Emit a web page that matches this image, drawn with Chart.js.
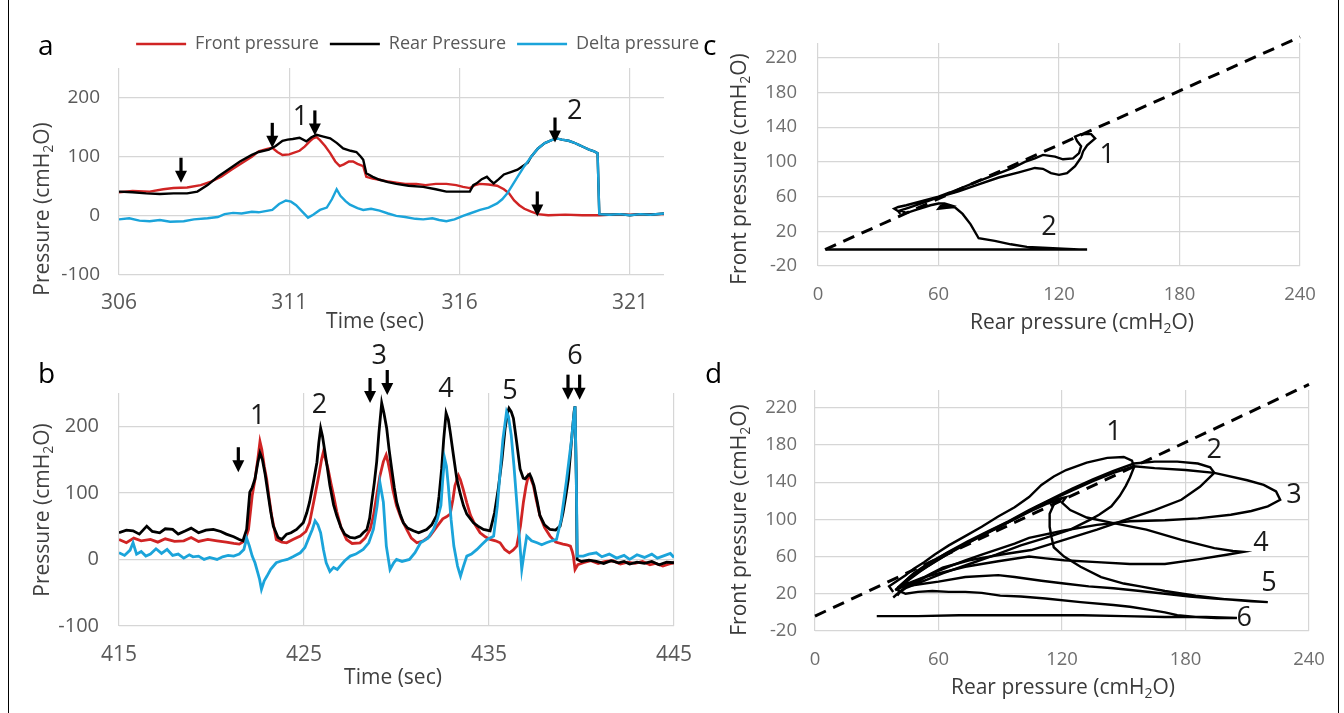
<!DOCTYPE html>
<html>
<head>
<meta charset="utf-8">
<script src="https://cdn.jsdelivr.net/npm/chart.js@4.4.0/dist/chart.umd.min.js"></script>
<style>
  html, body { margin: 0; padding: 0; background: #fff; }
  body { width: 1344px; height: 713px; position: relative; overflow: hidden; font-family: 'Open Sans', 'Noto Sans', sans-serif; }
  canvas { position: absolute; }
  .tag { position: absolute; font-size: 28px; line-height: 1; color: #000; }
  .frame { position: absolute; top: 0; bottom: 0; width: 0; border-left: 1.5px solid #000; }
</style>
</head>
<body>
<div class="frame" style="left:8px"></div>
<div class="frame" style="left:1338px"></div>

<canvas id="pa" width="700" height="311" style="left:0;top:24px"></canvas>
<canvas id="pb" width="700" height="360" style="left:0;top:340px"></canvas>
<canvas id="pc" width="644" height="320" style="left:700px;top:20px"></canvas>
<canvas id="pd" width="644" height="360" style="left:700px;top:340px"></canvas>

<div class="tag" style="left:38px;top:30px">a</div>
<div class="tag" style="left:38px;top:358px">b</div>
<div class="tag" style="left:703px;top:30px">c</div>
<div class="tag" style="left:705px;top:358px">d</div>

<script>
// ---- panel a: pressure vs time, 306-322 s ----
const aTicksX = [306, 311, 316, 321];
const aTicksY = [-100, 0, 100, 200];
const aFrontT = [306, 306.4, 306.9, 307.3, 307.6, 308, 308.4, 308.7, 309, 309.3, 309.6, 309.9, 310.1, 310.35, 310.5, 310.65, 310.8, 311, 311.1, 311.3, 311.45, 311.6, 311.7, 311.8, 311.9, 312.05, 312.2, 312.35, 312.48, 312.6, 312.75, 312.87, 313, 313.17, 313.26, 313.45, 313.65, 313.9, 314.14, 314.4, 314.73, 315, 315.3, 315.61, 315.9, 316.1, 316.3, 316.45, 316.6, 316.85, 317.1, 317.3, 317.45, 317.6, 317.75, 317.9, 318.1, 318.3, 318.6, 319.1, 319.6, 320.1, 320.5, 321, 321.5, 322];
const aFrontP = [40, 42, 41, 45, 47, 48, 52, 58, 66, 78, 89, 100, 109, 113, 115, 108, 103, 104, 106, 110, 117, 126, 131, 133, 128, 118, 106, 92, 84, 87, 92, 92, 88, 84, 66, 63, 61, 58, 56, 54, 54, 52, 54, 54, 52, 49, 47, 52, 54, 53, 51, 45, 38, 26, 18, 12, 7, 3, 1, 2, 1, 1, 2, 2, 3, 3];
const aRearT = [306, 306.4, 306.8, 307.2, 307.6, 308, 308.3, 308.6, 308.9, 309.2, 309.55, 309.9, 310.1, 310.4, 310.6, 310.8, 310.95, 311.1, 311.3, 311.5, 311.65, 311.8, 312, 312.2, 312.4, 312.58, 312.8, 312.97, 313.1, 313.17, 313.26, 313.45, 313.65, 313.9, 314.14, 314.5, 314.93, 315.3, 315.61, 316, 316.3, 316.4, 316.5, 316.65, 316.8, 316.9, 317, 317.15, 317.3, 317.5, 317.7, 317.85, 318, 318.1, 318.3, 318.5, 318.7, 318.85, 319, 319.2, 319.35, 319.5, 319.65, 319.8, 319.95, 320.05, 320.1, 320.4, 320.7, 321, 321.3, 321.6, 322];
const aRearP = [41, 40, 38, 37, 38, 38, 41, 52, 66, 78, 92, 103, 108, 112, 118, 127, 129, 130, 132, 126, 133, 137, 134, 131, 123, 114, 110, 108, 100, 95, 72, 66, 61, 57, 54, 51, 49, 45, 41, 41, 41, 52, 55, 62, 66, 60, 55, 62, 70, 74, 78, 84, 90, 100, 114, 123, 128, 131, 129, 127, 124, 120, 116, 112, 109, 106, 3, 2, 3, 1, 3, 2, 4];
const aDeltaT = [306, 306.3, 306.6, 306.9, 307.2, 307.5, 307.9, 308.2, 308.6, 308.9, 309.1, 309.35, 309.6, 309.9, 310.1, 310.3, 310.5, 310.7, 310.9, 311.05, 311.2, 311.4, 311.55, 311.7, 311.9, 312.1, 312.25, 312.39, 312.5, 312.65, 312.78, 313, 313.17, 313.4, 313.65, 313.9, 314.14, 314.4, 314.7, 314.93, 315.2, 315.4, 315.61, 315.85, 316.1, 316.3, 316.6, 316.85, 317.1, 317.25, 317.4, 317.55, 317.7, 317.9, 318.1, 318.3, 318.5, 318.7, 318.85, 319, 319.2, 319.35, 319.5, 319.65, 319.8, 319.95, 320.05, 320.1, 320.4, 320.7, 321, 321.3, 321.6, 322];
const aDeltaP = [-6, -4, -8, -9, -7, -10, -9, -6, -4, -2, 3, 5, 4, 7, 6, 8, 10, 20, 26, 24, 18, 6, -3, 2, 10, 14, 28, 45, 34, 25, 19, 13, 10, 12, 9, 4, 0, -2, -5, -6, -4, -7, -9, -6, 0, 4, 10, 14, 21, 28, 38, 52, 66, 84, 100, 114, 123, 128, 131, 129, 127, 124, 120, 116, 112, 109, 106, 3, 2, 3, 1, 3, 2, 4];
const aArrows = [[307.82, 56], [310.5, 115], [311.75, 136], [318.8, 124], [318.28, -1]];
const aMarks = [[311.33, 166, '1'], [319.38, 177, '2']];

// ---- panel b: pressure vs time, 415-445 s ----
const bTicksX = [415, 425, 435, 445];
const bTicksY = [-100, 0, 100, 200];
const bRearT = [415, 415.4, 415.76, 416.1, 416.5, 416.8, 417.2, 417.5, 417.9, 418.2, 418.6, 418.9, 419.3, 419.7, 420.1, 420.5, 420.8, 421.2, 421.5, 421.7, 421.9, 422.07, 422.2, 422.35, 422.5, 422.62, 422.75, 422.9, 423.07, 423.2, 423.34, 423.6, 423.8, 424.06, 424.3, 424.6, 424.96, 425.15, 425.3, 425.5, 425.7, 425.8, 425.9, 426, 426.1, 426.25, 426.4, 426.6, 426.77, 427, 427.2, 427.49, 427.75, 428.03, 428.2, 428.4, 428.55, 428.66, 428.8, 428.93, 429.05, 429.2, 429.32, 429.47, 429.6, 429.74, 429.88, 430.01, 430.2, 430.37, 430.6, 430.91, 431.2, 431.63, 431.9, 432.17, 432.3, 432.44, 432.55, 432.68, 432.8, 432.9, 433.1, 433.26, 433.45, 433.62, 433.8, 434.16, 434.4, 434.7, 435.06, 435.3, 435.5, 435.7, 435.87, 436, 436.08, 436.2, 436.32, 436.5, 436.68, 436.85, 436.95, 437.1, 437.2, 437.3, 437.43, 437.6, 437.75, 438, 438.3, 438.6, 438.84, 439, 439.15, 439.29, 439.45, 439.6, 439.65, 439.72, 439.76, 440, 440.4, 440.8, 441.2, 441.6, 442, 442.3, 442.6, 443, 443.4, 443.8, 444.2, 444.6, 445];
const bRearP = [40, 44, 43, 38, 50, 42, 40, 46, 45, 38, 43, 47, 40, 44, 45, 42, 38, 34, 30, 28, 45, 101, 108, 121, 145, 160, 150, 128, 96, 72, 50, 33, 30, 38, 40, 45, 55, 70, 86, 115, 146, 175, 197, 185, 167, 140, 111, 82, 66, 48, 38, 33, 32, 35, 40, 45, 62, 86, 115, 147, 190, 235, 220, 197, 165, 136, 108, 86, 68, 55, 47, 43, 40, 45, 52, 66, 95, 136, 180, 220, 210, 192, 152, 121, 98, 81, 68, 55, 50, 45, 43, 70, 106, 150, 197, 220, 227, 222, 212, 175, 136, 122, 121, 126, 128, 122, 111, 88, 66, 52, 45, 44, 50, 70, 95, 121, 175, 222, 230, 120, 0, -3, -1, -3, -6, -2, -5, -3, -7, -4, -6, -3, -8, -4, -5];
const bFrontT = [415, 415.4, 415.8, 416.2, 416.7, 417.1, 417.5, 418, 418.5, 418.9, 419.3, 419.8, 420.3, 420.8, 421.2, 421.5, 421.8, 422, 422.2, 422.35, 422.5, 422.62, 422.72, 422.85, 422.98, 423.1, 423.25, 423.4, 423.5, 423.8, 424.06, 424.4, 424.8, 425.1, 425.3, 425.55, 425.8, 425.95, 426.05, 426.15, 426.3, 426.45, 426.6, 426.77, 427, 427.3, 427.6, 428.03, 428.3, 428.57, 428.75, 428.93, 429.1, 429.29, 429.44, 429.55, 429.65, 429.8, 430, 430.25, 430.55, 430.8, 431.1, 431.45, 431.8, 432.2, 432.5, 432.7, 432.9, 433.05, 433.16, 433.35, 433.45, 433.6, 433.8, 434, 434.25, 434.52, 434.8, 435.06, 435.35, 435.6, 435.85, 436.1, 436.3, 436.5, 436.7, 436.86, 437, 437.13, 437.25, 437.4, 437.55, 437.75, 438, 438.3, 438.6, 439, 439.2, 439.4, 439.5, 439.56, 439.65, 439.8, 440.1, 440.5, 440.9, 441.3, 441.7, 442.1, 442.5, 442.9, 443.3, 443.7, 444, 444.4, 444.7, 445];
const bFrontP = [30, 25, 32, 28, 30, 26, 31, 27, 28, 33, 27, 30, 28, 26, 24, 23, 28, 45, 96, 120, 150, 177, 165, 140, 121, 95, 66, 45, 30, 26, 25, 30, 35, 42, 55, 90, 126, 150, 162, 152, 136, 115, 96, 72, 48, 30, 24, 25, 32, 45, 65, 96, 125, 147, 157, 145, 131, 105, 81, 62, 45, 32, 25, 28, 35, 50, 61, 64, 68, 90, 111, 126, 120, 106, 85, 66, 52, 40, 34, 30, 28, 25, 15, 10, 14, 20, 50, 86, 110, 126, 122, 111, 90, 66, 48, 35, 26, 23, 22, 20, 12, 5, -15, -8, -5, -2, -6, -3, -2, -7, -4, -6, -3, -8, -6, -10, -7, -5];
const bDeltaT = [415, 415.3, 415.6, 415.76, 415.95, 416.2, 416.45, 416.7, 417, 417.3, 417.6, 417.9, 418.2, 418.5, 418.8, 419, 419.3, 419.6, 419.9, 420.3, 420.6, 420.9, 421.2, 421.5, 421.75, 421.9, 422.05, 422.2, 422.35, 422.5, 422.6, 422.7, 422.85, 423, 423.2, 423.5, 423.8, 424.1, 424.4, 424.8, 425.05, 425.3, 425.45, 425.6, 425.75, 425.9, 426.05, 426.2, 426.4, 426.6, 426.8, 426.95, 427.2, 427.5, 427.8, 428.2, 428.5, 428.75, 428.95, 429.1, 429.2, 429.29, 429.45, 429.65, 429.85, 430, 430.3, 430.7, 431, 431.3, 431.7, 432, 432.2, 432.4, 432.5, 432.6, 432.7, 432.8, 432.95, 433.1, 433.3, 433.46, 433.6, 433.8, 434.05, 434.35, 434.6, 434.9, 435.25, 435.45, 435.6, 435.75, 435.95, 436.05, 436.2, 436.35, 436.5, 436.65, 436.77, 436.9, 437.04, 437.3, 437.6, 437.85, 438.1, 438.4, 438.65, 438.9, 439.05, 439.2, 439.35, 439.47, 439.58, 439.65, 439.72, 439.77, 440.1, 440.4, 440.8, 441.1, 441.5, 441.9, 442.3, 442.6, 443, 443.4, 443.8, 444.1, 444.4, 444.8, 445];
const bDeltaP = [10, 6, 14, 25, 8, 12, 5, 8, 16, 9, 15, 6, 8, 2, 7, 4, 5, 0, 3, 0, 4, 6, 5, 8, 15, 32, 20, 5, -5, -20, -30, -45, -32, -25, -15, -5, -2, 0, 4, 10, 18, 35, 45, 58, 52, 40, 15, -5, -18, -12, -15, -10, -2, 5, 8, 15, 25, 45, 80, 116, 100, 86, 20, -15, -5, 0, -3, 0, 10, 25, 32, 45, 60, 81, 120, 152, 140, 111, 60, 20, -10, -25, -12, 5, 8, 15, 22, 30, 35, 80, 131, 180, 222, 215, 187, 140, 86, 30, -15, 10, 35, 28, 25, 22, 25, 28, 30, 60, 90, 121, 155, 182, 215, 230, 120, 5, 5, 8, 10, 4, 8, 2, 6, 0, 7, 3, 8, 2, 5, 9, 3];
const bArrows = [[421.45, 131], [428.57, 235], [429.5, 247], [439.27, 240], [439.9, 240]];
const bMarks = [[422.5, 215, '1'], [425.83, 232, '2'], [429.07, 305, '3'], [432.68, 255, '4'], [436.14, 253, '5'], [439.65, 305, '6']];

// ---- panels c, d: front vs rear pressure ----
const pTicksX = [0, 60, 120, 180, 240];
const pTicksY = [-20, 20, 60, 100, 140, 180, 220];
const cIdentity = [[3.5, -1], [240, 244]];
const cLoop = [[41, 40], [40, 43], [38, 46], [40, 48], [44, 50], [52, 55], [60, 60], [66, 65], [78, 76], [89, 86], [97, 93], [103, 100], [108, 104], [112, 108], [118, 106], [122, 103], [127, 104], [130, 110], [131, 118], [129, 124], [128, 129], [131, 132], [136, 132], [138, 127], [134, 119], [132, 112], [131, 105], [128, 95], [124, 87], [120, 85], [116, 87], [112, 92], [108, 93], [100, 88], [90, 82], [80, 74], [70, 66], [61, 60], [55, 55], [50, 51], [45, 47], [41, 44], [44, 41], [48, 44], [52, 47], [56, 50], [60, 52], [63, 52], [66, 50], [61, 49], [60, 46], [64, 47], [68, 48], [72, 40], [76, 28], [80, 12], [88, 9], [96, 5], [104, 2], [112, 1], [122, 0], [130, -1], [134, -1], [120, -1], [100, -1], [80, -1], [60, -1], [40, -1], [20, -1], [4, -1]];
const cMarks = [[144, 108, '1'], [115, 25, '2']];

const dIdentity = [[0, -4], [240, 245]];
const dLoop1 = [[38, 22], [36, 28], [40, 34], [44, 40], [48, 47], [53, 54], [58, 62], [65, 72], [73, 82], [81, 92], [89, 103], [97, 113], [104, 124], [110, 137], [116, 146], [122, 153], [132, 161], [142, 166], [150, 167], [154, 163], [155, 156], [153, 145], [151, 136], [148, 125], [144, 114], [138, 105], [134, 100], [124, 89], [112, 80], [100, 72], [88, 62], [75, 52], [62, 42], [52, 33], [44, 26], [40, 20], [38, 16]];
const dLoop2 = [[40, 18], [42, 24], [48, 32], [55, 40], [62, 48], [75, 56], [90, 62], [105, 67], [121, 78], [137, 89], [150, 99], [165, 110], [178, 121], [187, 135], [194, 150], [192, 156], [186, 160], [176, 162], [165, 162], [155, 160], [145, 152], [135, 143], [125, 133], [115, 122], [104, 110], [94, 98], [84, 87], [74, 76], [64, 64], [55, 52], [47, 40], [42, 30], [39, 24]];
const dLoop3 = [[39, 24], [43, 28], [50, 33], [57, 42], [66, 50], [73, 56], [81, 62], [89, 68], [97, 74], [104, 80], [121, 88], [137, 94], [153, 98], [170, 99], [186, 101], [202, 105], [212, 109], [220, 114], [226, 121], [224, 130], [218, 137], [210, 142], [194, 150], [180, 153], [165, 155], [155, 157], [145, 150], [135, 141], [125, 131], [112, 118], [100, 104], [88, 90], [77, 78], [66, 66], [56, 54], [48, 42], [43, 32], [40, 26]];
const dLoop4 = [[40, 26], [44, 30], [52, 37], [60, 42], [73, 49], [89, 55], [104, 60], [112, 58], [121, 56], [137, 54], [153, 52], [170, 52], [186, 57], [200, 62], [208, 65], [203, 66], [194, 69], [178, 78], [161, 89], [145, 96], [132, 102], [124, 110], [120, 118], [122, 124], [116, 121], [108, 114], [100, 104], [90, 93], [80, 82], [70, 70], [60, 57], [51, 44], [45, 34], [41, 27]];
const dLoop5 = [[41, 27], [44, 28], [50, 30], [60, 33], [73, 38], [89, 40], [97, 38], [110, 34], [121, 31], [133, 28], [145, 26], [158, 23], [170, 20], [182, 17], [194, 15], [207, 13], [220, 11], [212, 12], [200, 14], [185, 18], [170, 23], [158, 28], [150, 31], [139, 38], [129, 49], [121, 60], [116, 70], [115, 80], [114, 92], [114, 106], [116, 116], [119, 121], [113, 117], [104, 108], [94, 97], [84, 86], [74, 74], [64, 62], [55, 50], [48, 40], [43, 31], [40, 24]];
const dLoop6 = [[40, 24], [44, 20], [50, 22], [57, 23], [65, 22], [73, 22], [81, 21], [90, 18], [100, 17], [112, 15], [129, 11], [145, 8], [153, 6], [162, 3], [170, 0], [176, -3], [185, -5], [195, -6], [205, -6], [190, -5], [170, -5], [150, -4], [130, -3], [110, -3], [90, -3], [70, -3], [50, -4], [30, -4]];
const dMarks = [[145.3, 193, '1'], [193.9, 174.6, '2'], [232.7, 126, '3'], [216.7, 74.6, '4'], [220.6, 31.6, '5'], [208.5, -6, '6']];

const RED = '#d02424', BLACK = '#000', CYAN = '#1ba4da', GRID = '#d6d6d6';
const FONT = "'Open Sans', 'Noto Sans', sans-serif";
Chart.defaults.font.family = FONT;
Chart.defaults.animation = false;

const pts = (xs, ys) => xs.map((x, i) => ({ x, y: ys[i] }));
const xy = arr => arr.map(([x, y]) => ({ x, y }));

// lower `order` is painted later, so delta sits over rear, rear over front
const series = (label, data, color, width, order = 0) => ({
  label, data, borderColor: color, backgroundColor: color, borderWidth: width, order,
  showLine: true, pointRadius: 0, pointStyle: 'line', tension: 0,
});

// fixed-size axis so every plot area lands where the figure has it
function scale(vals, min, max, size, pad, font, color) {
  return {
    type: 'linear', min, max,
    afterBuildTicks: s => { s.ticks = vals.map(value => ({ value })); },
    afterFit: s => {
      if (s.isHorizontal()) { s.height = size; s.paddingLeft = 0; s.paddingRight = 0; }
      else { s.width = size; s.paddingTop = 0; s.paddingBottom = 0; }
    },
    grid: { color: GRID, lineWidth: 1.2, drawTicks: false },
    border: { display: false },
    ticks: { padding: pad, color, font, autoSkip: false, maxRotation: 0 },
  };
}

// text with a subscript part: parts at odd indexes are lowered and smaller
function drawRich(ctx, parts, cx, cy, rot, size) {
  const big = size + 'px ' + FONT, small = Math.round(size * 0.66) + 'px ' + FONT;
  const w = parts.map((p, i) => { ctx.font = i % 2 ? small : big; return ctx.measureText(p).width; });
  let x = -w.reduce((s, v) => s + v, 0) / 2;
  ctx.save();
  ctx.translate(cx, cy);
  ctx.rotate(rot);
  ctx.textAlign = 'left';
  ctx.textBaseline = 'middle';
  parts.forEach((p, i) => {
    ctx.font = i % 2 ? small : big;
    ctx.fillText(p, x, i % 2 ? size * 0.3 : 0);
    x += w[i];
  });
  ctx.restore();
}

const decor = {
  id: 'decor',
  afterDatasetsDraw(chart, args, o) {
    const { ctx, scales: { x, y } } = chart;
    ctx.save();
    ctx.fillStyle = '#000';
    ctx.strokeStyle = '#000';
    (o.arrows || []).forEach(([t, v]) => {
      const px = x.getPixelForValue(t), py = y.getPixelForValue(v);
      ctx.lineWidth = 3.2;
      ctx.beginPath(); ctx.moveTo(px, py - 25); ctx.lineTo(px, py - 10); ctx.stroke();
      ctx.beginPath(); ctx.moveTo(px - 6, py - 12); ctx.lineTo(px + 6, py - 12); ctx.lineTo(px, py); ctx.closePath(); ctx.fill();
    });
    ctx.font = '27px ' + FONT;
    ctx.textAlign = 'center';
    ctx.textBaseline = 'middle';
    ctx.fillStyle = '#1a1a1a';
    (o.marks || []).forEach(([t, v, s]) => ctx.fillText(s, x.getPixelForValue(t), y.getPixelForValue(v)));
    ctx.restore();
  },
  afterDraw(chart, args, o) {
    const { ctx, chartArea: a } = chart;
    ctx.save();
    ctx.fillStyle = o.color;
    drawRich(ctx, o.xTitle, (a.left + a.right) / 2 + o.xPos[0], a.bottom + o.xPos[1], 0, o.size);
    drawRich(ctx, o.yTitle, a.left - o.yPos[0], (a.top + a.bottom) / 2 + o.yPos[1], -Math.PI / 2, o.size);
    ctx.restore();
  },
};

// legend box of fixed height, slid sideways to sit over the panel's right edge
const legendSpot = {
  id: 'legendSpot',
  beforeInit(chart, args, o) {
    const lg = chart.legend;
    const fit = lg.fit;
    lg.fit = function () { fit.call(this); this.height = o.height; };
  },
  afterLayout(chart, args, o) {
    chart.legend.left += o.dx;
    chart.legend.right += o.dx;
  },
};

const PRESS = ['Pressure (cmH', '2', 'O)'];
const TIME = ['Time (sec)'];
const FRONT = ['Front pressure (cmH', '2', 'O)'];
const REAR = ['Rear pressure (cmH', '2', 'O)'];

new Chart(document.getElementById('pa'), {
  type: 'scatter',
  data: {
    datasets: [
      series('Front pressure', pts(aFrontT, aFrontP), RED, 2.4, 3),
      series('Rear Pressure', pts(aRearT, aRearP), BLACK, 2.4, 2),
      series('Delta pressure', pts(aDeltaT, aDeltaP), CYAN, 2.4, 1),
    ],
  },
  options: {
    responsive: false,
    layout: { padding: { left: 0, right: 36, top: 0, bottom: 0 } },
    scales: {
      x: scale(aTicksX, 306, 322, 60, 15, { size: 21 }, '#595959'),
      y: scale(aTicksY, -100, 250, 119, 19, { family: "'Liberation Sans Narrow', " + FONT, size: 19 }, '#595959'),
    },
    plugins: {
      legend: {
        position: 'top', align: 'end',
        labels: {
          usePointStyle: true, pointStyleWidth: 50, padding: 11, color: '#595959', font: { size: 18 },
          sort: (p, q) => p.datasetIndex - q.datasetIndex,
        },
      },
      tooltip: { enabled: false },
      legendSpot: { height: 44, dx: 46 },
      decor: { arrows: aArrows, marks: aMarks, xTitle: TIME, yTitle: PRESS, xPos: [-16.5, 47], yPos: [76, 37.5], size: 21, color: '#404040' },
    },
  },
  plugins: [legendSpot, decor],
});

new Chart(document.getElementById('pb'), {
  type: 'scatter',
  data: {
    datasets: [
      series('Front pressure', pts(bFrontT, bFrontP), RED, 2.8, 3),
      series('Rear Pressure', pts(bRearT, bRearP), BLACK, 2.8, 2),
      series('Delta pressure', pts(bDeltaT, bDeltaP), CYAN, 2.8, 1),
    ],
  },
  options: {
    responsive: false,
    layout: { padding: { left: 0, right: 26, top: 53, bottom: 0 } },
    scales: {
      x: scale(bTicksX, 415, 445, 74, 16, { size: 21 }, '#595959'),
      y: scale(bTicksY, -100, 250, 119, 20, { size: 20 }, '#595959'),
    },
    plugins: {
      legend: { display: false },
      tooltip: { enabled: false },
      decor: { arrows: bArrows, marks: bMarks, xTitle: TIME, yTitle: PRESS, xPos: [-3.5, 52], yPos: [76, 0.5], size: 21, color: '#404040' },
    },
  },
  plugins: [decor],
});

const loopSet = (identity, loops) => [
  { ...series('Identity', xy(identity), BLACK, 3), borderDash: [12, 8], clip: false },
  ...loops.map((l, i) => series('Loop ' + (i + 1), xy(l), BLACK, 2.4)),
];

new Chart(document.getElementById('pc'), {
  type: 'scatter',
  data: { datasets: loopSet(cIdentity, [cLoop]) },
  options: {
    responsive: false,
    layout: { padding: { left: 0, right: 44, top: 23, bottom: 0 } },
    scales: {
      x: scale(pTicksX, 0, 240, 74, 18, { size: 18.5 }, '#6e6e6e'),
      y: scale(pTicksY, -20, 237, 118, 21, { size: 18.5 }, '#6e6e6e'),
    },
    plugins: {
      legend: { display: false },
      tooltip: { enabled: false },
      decor: { marks: cMarks, xTitle: REAR, yTitle: FRONT, xPos: [23, 57], yPos: [78, 14.5], size: 21, color: '#3a3a3a' },
    },
  },
  plugins: [decor],
});

new Chart(document.getElementById('pd'), {
  type: 'scatter',
  data: { datasets: loopSet(dIdentity, [dLoop1, dLoop2, dLoop3, dLoop4, dLoop5, dLoop6]) },
  options: {
    responsive: false,
    layout: { padding: { left: 0, right: 35, top: 50, bottom: 0 } },
    scales: {
      x: scale(pTicksX, 0, 240, 69, 18, { size: 18.5 }, '#6e6e6e'),
      y: scale(pTicksY, -20, 239, 115, 18, { size: 18.5 }, '#6e6e6e'),
    },
    plugins: {
      legend: { display: false },
      tooltip: { enabled: false },
      decor: { marks: dMarks, xTitle: REAR, yTitle: FRONT, xPos: [1, 57], yPos: [75, 9.5], size: 21, color: '#3a3a3a' },
    },
  },
  plugins: [decor],
});
</script>
</body>
</html>
